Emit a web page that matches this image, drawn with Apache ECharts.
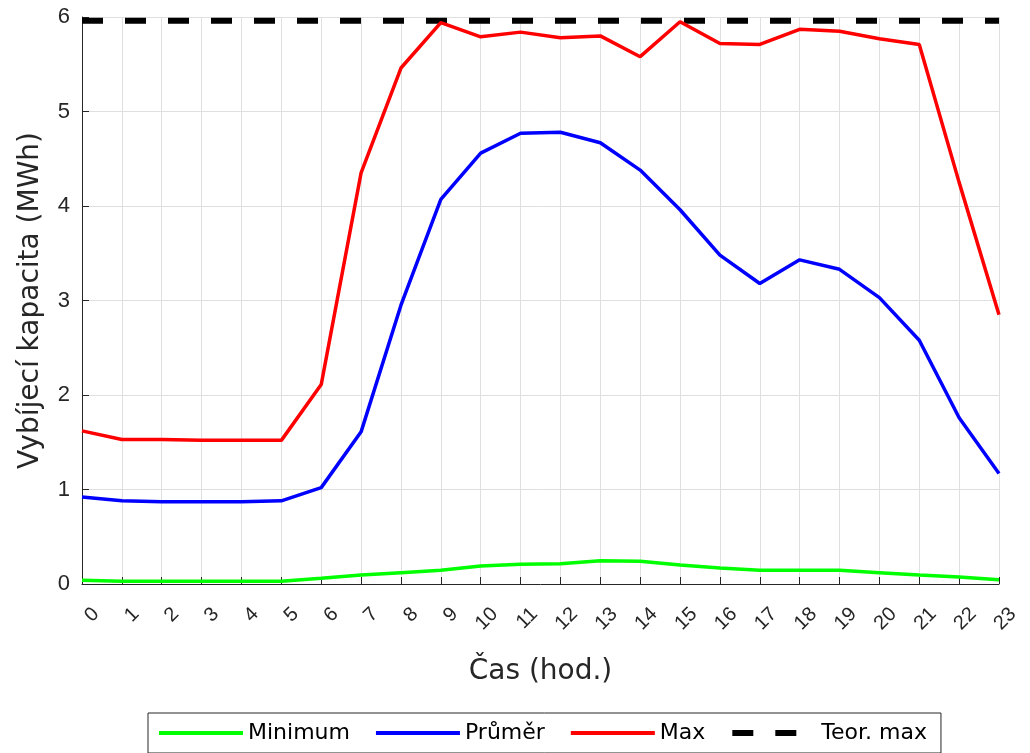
<!DOCTYPE html>
<html>
<head>
<meta charset="utf-8">
<script src="https://cdn.jsdelivr.net/npm/echarts@6/dist/echarts.min.js"></script>
<style>html,body{margin:0;padding:0;background:#fff;}#c{width:1030px;height:753px;}</style>
</head>
<body>
<div id="c"></div>
<script>
const hours = ['0','1','2','3','4','5','6','7','8','9','10','11','12','13','14','15','16','17','18','19','20','21','22','23'];
const minimum = [0.04,0.03,0.03,0.03,0.03,0.03,0.06,0.095,0.12,0.145,0.19,0.21,0.215,0.245,0.24,0.20,0.17,0.145,0.145,0.145,0.12,0.095,0.075,0.045];
const prumer = [0.92,0.88,0.87,0.87,0.87,0.88,1.02,1.61,2.95,4.07,4.56,4.77,4.78,4.67,4.38,3.96,3.48,3.18,3.43,3.33,3.03,2.58,1.76,1.17];
const maximum = [1.62,1.53,1.53,1.52,1.52,1.52,2.11,4.35,5.46,5.94,5.79,5.84,5.78,5.80,5.58,5.95,5.72,5.71,5.87,5.85,5.77,5.71,4.25,2.85];
const teorMax = [5.96,5.96,5.96,5.96,5.96,5.96,5.96,5.96,5.96,5.96,5.96,5.96,5.96,5.96,5.96,5.96,5.96,5.96,5.96,5.96,5.96,5.96,5.96,5.96];
const yTicks = [0,1,2,3,4,5,6];
const seriesNames = ['Minimum','Průměr','Max','Teor. max'];

const font = "Arial, 'Liberation Sans', Helvetica, sans-serif";
const wideFont = "'DejaVu Sans', Verdana, sans-serif";
const chart = echarts.init(document.getElementById('c'), null, {renderer:'canvas'});
const option = {
  animation: false,
  backgroundColor: '#fff',
  textStyle: {fontFamily: font},
  grid: [
    {left: 82, right: 31, top: 17, bottom: 169, containLabel: false},
    {left: 96, right: 17, top: 17, bottom: 169, containLabel: false}
  ],
  xAxis: [{
    type: 'category', data: hours, boundaryGap: false, gridIndex: 0,
    name: 'Čas (hod.)', nameLocation: 'middle', nameGap: 74,
    nameTextStyle: {fontFamily: wideFont, fontSize: 28, color: '#262626'},
    axisLine: {show: true, lineStyle: {color: '#262626', width: 1}},
    axisTick: {show: true, inside: true, length: 7, alignWithLabel: true, interval: 0, lineStyle: {color: '#262626'}},
    axisLabel: {show: false},
    splitLine: {show: true, interval: 0, lineStyle: {color: '#dfdfdf', width: 1}}
  }, {
    type: 'category', data: hours, boundaryGap: false, gridIndex: 1,
    axisLine: {show: false}, axisTick: {show: false}, splitLine: {show: false},
    axisLabel: {interval: 0, rotate: 45, margin: 27, fontFamily: font, fontSize: 20, color: '#262626'}
  }],
  yAxis: [{
    type: 'value', min: 0, max: 6, interval: 1, gridIndex: 0,
    name: 'Vybíjecí kapacita (MWh)', nameLocation: 'middle', nameGap: 37,
    nameTextStyle: {fontFamily: wideFont, fontSize: 28, color: '#262626'},
    axisLine: {show: true, lineStyle: {color: '#262626', width: 1}},
    axisTick: {show: true, inside: true, length: 7, lineStyle: {color: '#262626'}},
    axisLabel: {margin: 12, fontFamily: font, fontSize: 22, color: '#262626',
      formatter: v => yTicks.includes(v) ? String(v) : ''},
    splitLine: {show: true, lineStyle: {color: '#dfdfdf', width: 1}}
  }, {
    type: 'value', min: 0, max: 6, gridIndex: 1, show: false
  }],
  legend: {
    left: 148, top: 713, orient: 'horizontal',
    itemWidth: 84, itemHeight: 14, itemGap: 24,
    padding: [9, 14, 9, 9],
    borderColor: '#262626', borderWidth: 1, backgroundColor: '#fff',
    itemStyle: {opacity: 0},
    textStyle: {fontFamily: wideFont, fontSize: 22, color: '#000'},
    data: [
      {name: seriesNames[0], lineStyle: {width: 4}},
      {name: seriesNames[1], lineStyle: {width: 4}},
      {name: seriesNames[2], lineStyle: {width: 4}},
      {name: seriesNames[3], lineStyle: {width: 6}}
    ]
  },
  series: [
    {name: seriesNames[0], type: 'line', data: minimum, symbol: 'none', lineStyle: {color: '#00ff00', width: 3.5}, itemStyle: {color: '#00ff00'}},
    {name: seriesNames[1], type: 'line', data: prumer, symbol: 'none', lineStyle: {color: '#0000ff', width: 3.5}, itemStyle: {color: '#0000ff'}},
    {name: seriesNames[2], type: 'line', data: maximum, symbol: 'none', lineStyle: {color: '#ff0000', width: 3.5}, itemStyle: {color: '#ff0000'}},
    {name: seriesNames[3], type: 'line', data: teorMax, symbol: 'none', z: 1, lineStyle: {color: '#000', width: 6, type: [21, 22]}, itemStyle: {color: '#000'}}
  ]
};
chart.setOption(option);
if (document.fonts && document.fonts.load) {
  Promise.all([
    document.fonts.load("22px Arial"),
    document.fonts.load("22px 'Liberation Sans'"),
    document.fonts.load("22px 'DejaVu Sans'")
  ]).then(() => { chart.clear(); chart.setOption(option); }).catch(() => {});
}
</script>
</body>
</html>
